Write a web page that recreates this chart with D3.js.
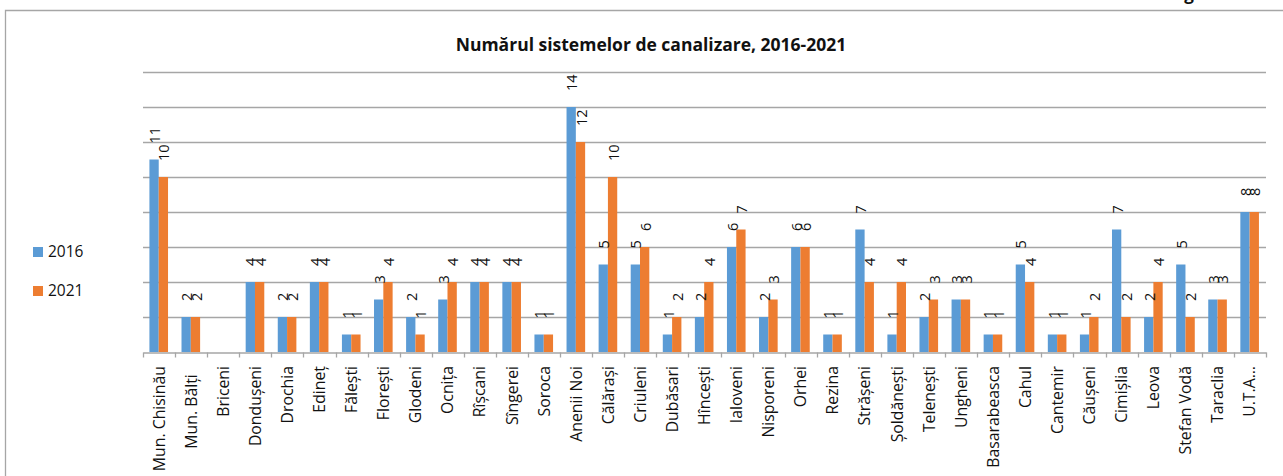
<!DOCTYPE html>
<html>
<head>
<meta charset="utf-8">
<script src="https://cdn.jsdelivr.net/npm/d3@7"></script>
<style>
  body { margin: 0; background: #fff; }
  svg { display: block; font-family: "Open Sans", "Noto Sans", sans-serif; }
</style>
</head>
<body>
<div id="chart"></div>
<script>
var w = 1283;
var h = 476;

// data
var categories = ["Mun. Chisinău", "Mun. Bălți\u00a0\u00a0", "Briceni", "Dondușeni", "Drochia", "Edineț", "Fălești",
  "Florești", "Glodeni", "Ocnița", "Rîșcani", "Sîngerei", "Soroca", "Anenii Noi", "Călărași", "Criuleni",
  "Dubăsari", "Hîncești", "Ialoveni", "Nisporeni", "Orhei", "Rezina", "Strășeni", "Șoldănești", "Telenești",
  "Ungheni", "Basarabeasca", "Cahul", "Cantemir", "Căușeni", "Cimișlia", "Leova", "Stefan Vodă", "Taraclia", "U.T.A…"];
var years = ["2016", "2021"];
var values2016 = [11, 2, null, 4, 2, 4, 1, 3, 2, 3, 4, 4, 1, 14, 5, 5, 1, 2, 6, 2, 6, 1, 7, 1, 2, 3, 1, 5, 1, 1, 7, 2, 5, 3, 8];
var values2021 = [10, 2, null, 4, 2, 4, 1, 4, 1, 4, 4, 4, 1, 12, 10, 6, 2, 4, 7, 3, 6, 1, 4, 4, 3, 3, 1, 4, 1, 2, 2, 4, 2, 3, 8];
var yTicks = [2, 4, 6, 8, 10, 12, 14, 16];
var colors = ["#5b9bd5", "#ed7d31"];
var title = "Numărul sistemelor de canalizare, 2016-2021";

var series = [values2016, values2021];

// plot area
var margin = {left: 143, right: 1266, top: 72, bottom: 352};

var svg = d3.select("#chart")
    .append("svg")
    .attr("width", w)
    .attr("height", h);

// outer chart frame (cut off at the right and bottom)
svg.append("path")
    .attr("d", "M5.5," + (h + 5) + "V10.5H" + (w + 5))
    .attr("fill", "none")
    .attr("stroke", "#a6a6a6")
    .attr("stroke-width", 1.3);

// bit of text from above the frame
svg.append("text")
    .attr("x", 1189)
    .attr("y", 0)
    .attr("text-anchor", "middle")
    .attr("font-weight", "bold")
    .attr("font-size", 17)
    .attr("fill", "#111")
    .text("g");

var x = d3.scaleBand()
    .domain(categories)
    .range([margin.left, margin.right]);

var x1 = d3.scaleBand()
    .domain(years)
    .range([x.bandwidth() * 0.2, x.bandwidth() * 0.78]);

var y = d3.scaleLinear()
    .domain([0, 16])
    .range([margin.bottom, margin.top]);

// gridlines
svg.append("g")
    .selectAll("line")
    .data(yTicks)
    .enter().append("line")
    .attr("x1", margin.left)
    .attr("x2", margin.right)
    .attr("y1", function(d) { return Math.round(y(d)) + 0.5; })
    .attr("y2", function(d) { return Math.round(y(d)) + 0.5; })
    .attr("stroke", "#a6a6a6")
    .attr("stroke-width", 1.3);

// bars
var groups = svg.append("g")
    .selectAll("g")
    .data(categories)
    .enter().append("g")
    .attr("transform", function(d) { return "translate(" + x(d) + ",0)"; });

groups.selectAll("rect")
    .data(function(d, i) {
        return years.map(function(yr, j) { return {year: yr, value: series[j][i], j: j}; });
    })
    .enter().filter(function(d) { return d.value != null; })
    .append("rect")
    .attr("x", function(d) { return x1(d.year); })
    .attr("width", x1.bandwidth())
    .attr("y", function(d) { return y(d.value); })
    .attr("height", function(d) { return y(0) - y(d.value); })
    .attr("fill", function(d) { return colors[d.j]; });

// value labels, rotated
groups.selectAll("text")
    .data(function(d, i) {
        return years.map(function(yr, j) { return {year: yr, value: series[j][i]}; });
    })
    .enter().filter(function(d) { return d.value != null; })
    .append("text")
    .attr("transform", function(d) {
        return "translate(" + (x1(d.year) + x1.bandwidth() / 2 + 1) + "," + (y(d.value) - 16) + ") rotate(-90)";
    })
    .attr("dy", "0.35em")
    .attr("font-size", 14.5)
    .attr("fill", "#111")
    .text(function(d) { return d.value; });

// category axis
var xAxis = d3.axisBottom(x).tickSize(0).tickFormat("");
var axisG = svg.append("g")
    .attr("transform", "translate(0," + (margin.bottom + 0.5) + ")")
    .call(xAxis);
axisG.select(".domain").attr("stroke", "#a6a6a6").attr("stroke-width", 1.3);

var bounds = x.domain().map(function(d) { return x(d); }).concat([margin.right]);
axisG.selectAll(".sep")
    .data(bounds)
    .enter().append("line")
    .attr("class", "sep")
    .attr("x1", function(d) { return Math.round(d) + 0.5; })
    .attr("x2", function(d) { return Math.round(d) + 0.5; })
    .attr("y1", 0)
    .attr("y2", 5)
    .attr("stroke", "#a6a6a6")
    .attr("stroke-width", 1.3);

svg.append("g")
    .selectAll("text")
    .data(categories)
    .enter().append("text")
    .attr("transform", function(d) {
        return "translate(" + (x(d) + x.bandwidth() / 2) + "," + 366 + ") rotate(-90)";
    })
    .attr("dy", "0.35em")
    .attr("text-anchor", "end")
    .attr("font-size", 15.8)
    .attr("fill", "#111")
    .style("white-space", "pre")
    .text(function(d) { return d; });

// title
svg.append("text")
    .attr("x", 651)
    .attr("y", 51)
    .attr("text-anchor", "middle")
    .attr("font-weight", "bold")
    .attr("font-size", 17.5)
    .attr("fill", "#111")
    .text(title);

// legend
var legend = svg.append("g")
    .selectAll("g")
    .data(years)
    .enter().append("g")
    .attr("transform", function(d, i) { return "translate(33," + (247 + i * 39) + ")"; });

legend.append("rect")
    .attr("width", 10)
    .attr("height", 10)
    .attr("fill", function(d, i) { return colors[i]; });

legend.append("text")
    .attr("x", 15)
    .attr("y", 10)
    .attr("font-size", 15.5)
    .attr("fill", "#111")
    .text(function(d) { return d; });
</script>
</body>
</html>
